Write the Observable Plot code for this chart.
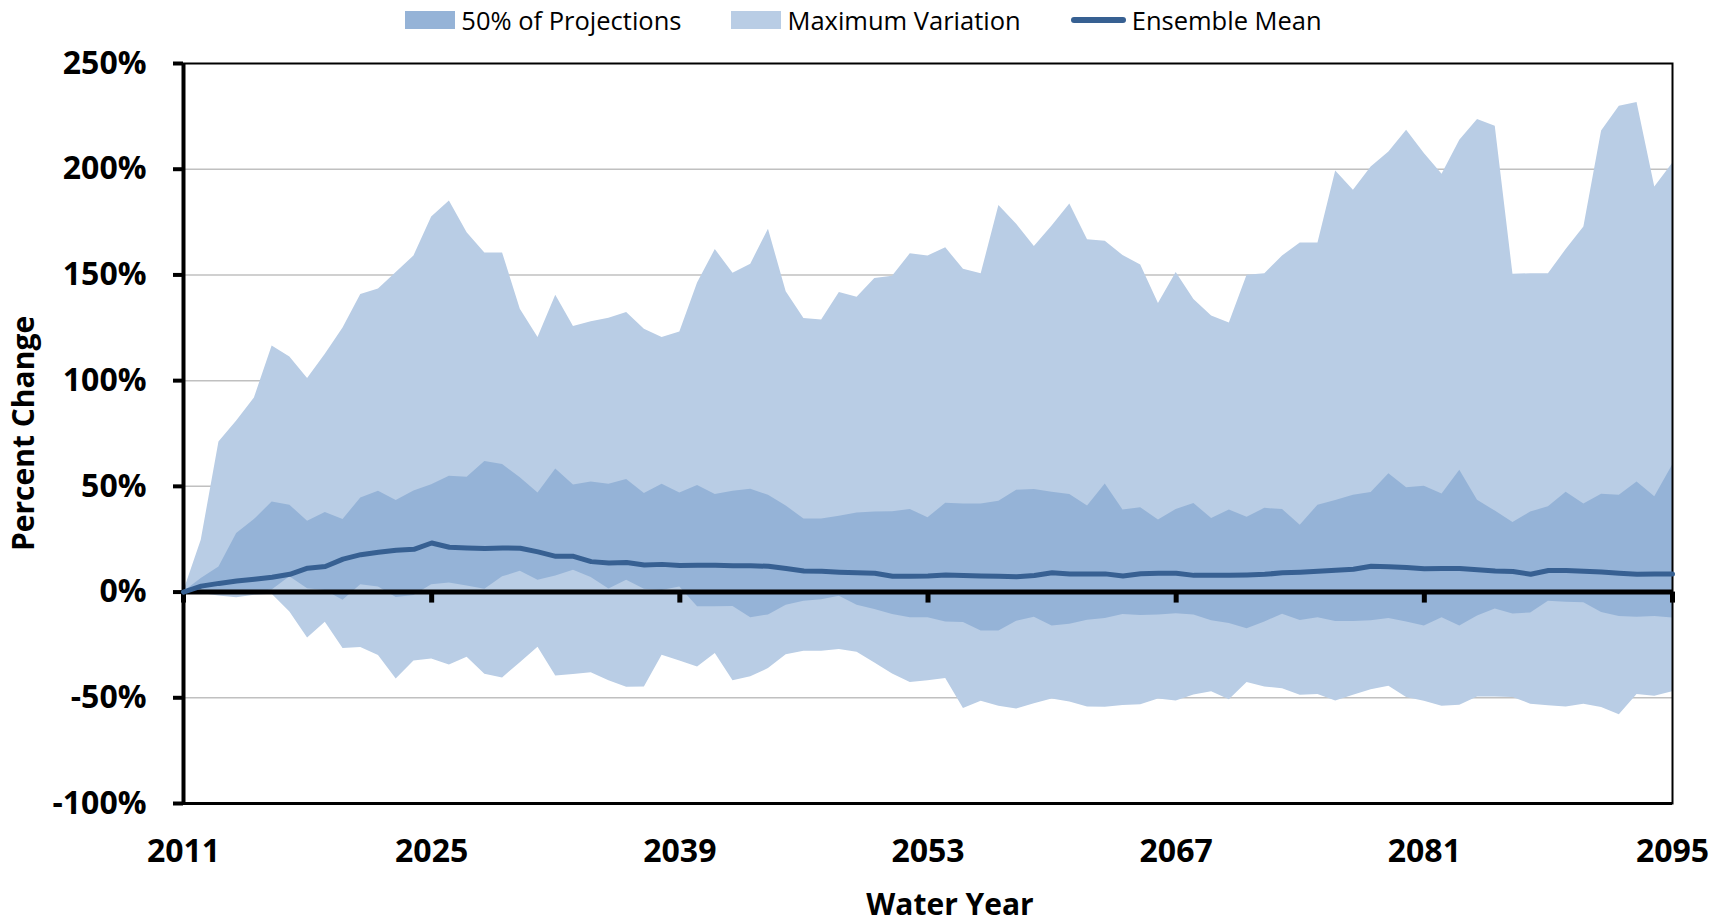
<!DOCTYPE html>
<html>
<head>
<meta charset="utf-8">
<script src="https://cdn.jsdelivr.net/npm/d3@7"></script>
<script src="https://cdn.jsdelivr.net/npm/@observablehq/plot@0.6"></script>
<style>
  html, body { margin: 0; padding: 0; background: white; overflow: hidden; }
  #legend { height: 40px; display: flex; justify-content: center; align-items: center; gap: 50px;
            font-family: "Open Sans", sans-serif; font-size: 25.5px; color: black; }
  #legend .item { display: flex; align-items: center; gap: 6px; }
  #legend .sw { display: inline-block; width: 50px; height: 18px; }
  #legend .ln { display: inline-block; width: 55px; height: 6px; border-radius: 3px; }
  #chart svg { display: block; }
</style>
</head>
<body>
<div id="legend"></div>
<div id="chart"></div>
<script>
const years = [2011,2012,2013,2014,2015,2016,2017,2018,2019,2020,2021,2022,2023,2024,2025,2026,2027,2028,2029,2030,
  2031,2032,2033,2034,2035,2036,2037,2038,2039,2040,2041,2042,2043,2044,2045,2046,2047,2048,2049,2050,
  2051,2052,2053,2054,2055,2056,2057,2058,2059,2060,2061,2062,2063,2064,2065,2066,2067,2068,2069,2070,
  2071,2072,2073,2074,2075,2076,2077,2078,2079,2080,2081,2082,2083,2084,2085,2086,2087,2088,2089,2090,
  2091,2092,2093,2094,2095];

// Maximum variation (upper and lower envelopes), percent change
const maxUpper = [0,24.5,71.0,80.9,91.8,116.4,111.2,101.0,112.5,124.9,140.7,143.4,151.1,159.0,177.4,185.0,170.0,160.4,160.4,133.8,
  120.4,140.4,125.6,127.8,129.5,132.2,124.3,120.4,123.0,146.2,162.0,150.8,155.1,171.6,142.0,129.4,128.7,141.7,139.5,148.3,
  149.4,160.0,158.9,162.8,152.7,150.5,182.8,174.0,163.4,173.2,183.6,166.6,165.9,159.2,154.7,136.5,151.1,138.4,130.6,127.3,
  149.9,150.6,159.0,165.1,165.1,199.2,190.0,201.1,208.2,218.4,207.4,197.6,213.7,223.5,220.3,150.3,150.6,150.6,162.0,172.7,
  218.1,229.8,231.5,191.6,202.7];
const maxLower = [0,-0.7,-1.8,-2.7,-1.5,-1.0,-9.4,-21.7,-14.3,-26.7,-26.2,-30.0,-41.1,-32.6,-31.7,-34.5,-30.8,-38.9,-40.6,-33.4,
  -26.1,-39.7,-39.0,-38.1,-42.0,-45.0,-44.9,-29.9,-32.6,-35.4,-29.0,-42.0,-40.1,-36.2,-29.6,-28.0,-28.0,-27.2,-28.5,-33.6,
  -38.8,-42.8,-42.0,-40.9,-55.1,-51.6,-54.0,-55.3,-52.8,-50.6,-52.0,-54.4,-54.5,-53.7,-53.3,-50.6,-51.5,-48.7,-47.2,-50.9,
  -42.8,-44.9,-45.7,-48.8,-48.5,-51.5,-48.8,-46.2,-44.6,-49.9,-51.6,-54.0,-53.5,-49.6,-49.6,-49.9,-53.0,-53.8,-54.4,-53.0,
  -54.6,-58.0,-48.5,-49.3,-47.2];

// 50% of projections (upper and lower quartiles)
const q75 = [0,6.4,11.9,27.7,34.3,42.6,41.1,33.5,37.6,34.3,44.5,47.7,43.3,47.8,50.8,54.8,54.3,61.7,60.3,54.1,
  46.9,58.2,50.7,52.1,51.0,53.2,46.6,51.0,46.9,50.4,46.1,47.7,48.6,45.8,40.7,34.6,34.6,35.9,37.4,37.9,
  38.0,39.0,35.1,42.0,41.7,41.7,43.0,48.2,48.5,47.2,46.1,40.7,51.1,38.8,39.9,34.1,39.0,41.9,34.8,38.8,
  35.4,39.6,39.0,31.6,41.1,43.3,45.8,47.1,56.0,49.4,50.0,46.4,57.6,43.4,38.3,32.9,37.9,40.3,47.2,41.7,
  46.3,45.8,52.1,45.1,60.0];
const q25 = [0,0,-0.5,-0.5,0,1.0,7.2,1.6,0.8,-3.9,3.5,2.4,-2.6,-1.6,3.5,4.3,2.9,1.3,7.2,9.8,
  5.6,7.6,10.3,6.9,1.5,5.6,1.3,0.8,2.4,-7.0,-7.0,-6.8,-12.1,-10.8,-6.2,-4.3,-3.6,-2.0,-6.2,-8.2,
  -10.6,-12.1,-12.1,-14.1,-14.4,-18.4,-18.4,-13.8,-11.9,-16.0,-15.2,-13.3,-12.5,-10.6,-11.1,-10.9,-10.2,-10.9,-13.6,-14.9,
  -17.3,-14.1,-10.5,-13.5,-12.2,-13.9,-13.9,-13.6,-12.5,-14.1,-16.0,-12.2,-16.0,-11.3,-8.0,-10.4,-9.9,-4.3,-4.8,-5.0,
  -9.7,-11.6,-11.9,-11.5,-12.3];

// Ensemble mean
const ensembleMean = [0,2.8,4.1,5.2,6.1,7.0,8.4,11.3,12.1,15.6,17.7,18.8,19.8,20.2,23.2,21.2,20.9,20.6,20.9,20.7,
  19.0,16.9,16.9,14.4,13.8,14.0,12.8,13.1,12.6,12.7,12.7,12.5,12.4,12.2,11.1,10.0,9.8,9.4,9.1,8.9,
  7.5,7.5,7.6,8.1,7.8,7.6,7.5,7.3,7.8,9.1,8.6,8.6,8.6,7.6,8.7,8.9,8.9,7.9,7.9,7.9,
  8.1,8.4,9.1,9.4,9.8,10.3,10.8,12.2,12.0,11.6,11.0,11.1,11.2,10.6,10.0,9.7,8.4,10.2,10.2,9.8,
  9.5,8.9,8.4,8.6,8.6];

const xTicks = [2011, 2025, 2039, 2053, 2067, 2081, 2095];
const yTicks = [-100, -50, 0, 50, 100, 150, 200, 250];
const gridValues = [-50, 50, 100, 150, 200];

const legendItems = [
  {label: "50% of Projections", color: "#95b3d7", kind: "sw"},
  {label: "Maximum Variation", color: "#b9cde5", kind: "sw"},
  {label: "Ensemble Mean", color: "#376092", kind: "ln"}
];

const data = years.map((year, i) => ({
  year, max: maxUpper[i], min: maxLower[i], p75: q75[i], p25: q25[i], mean: ensembleMean[i]
}));

const legend = document.getElementById("legend");
for (const it of legendItems) {
  const item = document.createElement("span");
  item.className = "item";
  const sw = document.createElement("span");
  sw.className = it.kind;
  sw.style.background = it.color;
  item.appendChild(sw);
  item.appendChild(document.createTextNode(it.label));
  legend.appendChild(item);
}

const chart = Plot.plot({
  width: 1727,
  height: 883,
  marginTop: 23,
  marginBottom: 120,
  marginLeft: 183,
  marginRight: 55,
  style: {fontFamily: "'Open Sans', sans-serif", fontSize: "32px", fontWeight: "bold", color: "black", background: "white", overflow: "visible"},
  x: {domain: [2011, 2095]},
  y: {domain: [-100, 250]},
  marks: [
    Plot.ruleY(gridValues, {stroke: "#c0c0c0", strokeWidth: 1.5}),
    Plot.areaY(data, {x: "year", y1: "min", y2: "max", fill: "#b9cde5"}),
    Plot.areaY(data, {x: "year", y1: "p25", y2: "p75", fill: "#95b3d7"}),
    Plot.ruleY([0], {stroke: "black", strokeWidth: 5}),
    Plot.ruleX(xTicks, {x: d => d, y1: 0, y2: 0, insetBottom: -11, stroke: "black", strokeWidth: 5}),
    Plot.frame({stroke: "black", strokeWidth: 2}),
    Plot.ruleY([-100], {stroke: "black", strokeWidth: 3}),
    Plot.ruleX([2011], {stroke: "black", strokeWidth: 4}),
    Plot.axisY({ticks: yTicks, tickSize: 10, tickPadding: 27, strokeWidth: 4, tickFormat: d => d + "%", label: null}),
    Plot.axisX({ticks: xTicks, tickSize: 0, tickPadding: 36, tickFormat: d => String(d), label: null}),
    Plot.lineY(data, {x: "year", y: "mean", stroke: "#376092", strokeWidth: 5, strokeLinejoin: "round"}),
    Plot.text(["Water Year"], {text: d => d, frameAnchor: "bottom", dy: 102, dx: 22, fontSize: 30, lineAnchor: "middle"}),
    Plot.text(["Percent Change"], {text: d => d, frameAnchor: "left", textAnchor: "middle", dx: -159, rotate: -90, fontSize: 30, lineAnchor: "middle"})
  ]
});
document.getElementById("chart").appendChild(chart);
</script>
</body>
</html>
